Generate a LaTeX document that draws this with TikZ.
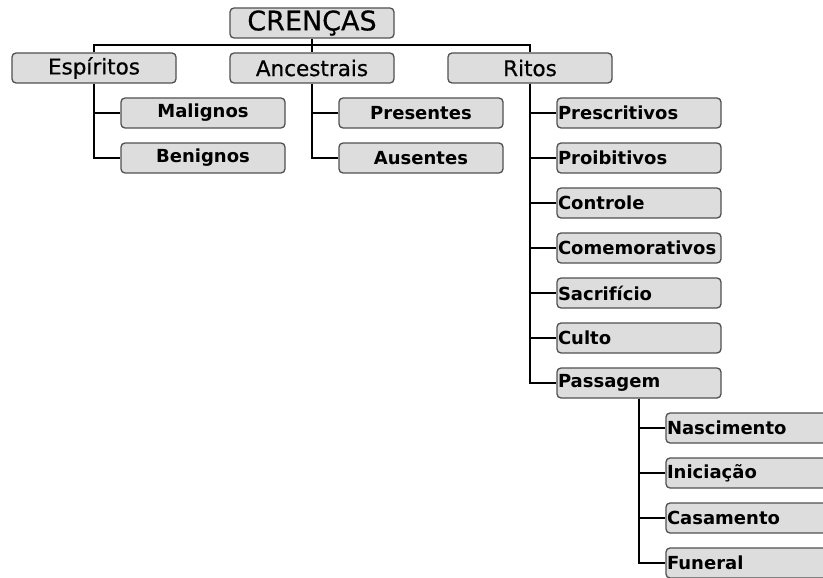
\documentclass[tikz,border=0pt]{standalone}
\usepackage{fontspec}
\setmainfont{DejaVu Sans}
\newfontfamily\medfont[FakeBold=0.6]{DejaVu Sans}
\definecolor{boxfill}{RGB}{221,221,221}
\definecolor{boxline}{RGB}{80,80,80}
\begin{document}
\begin{tikzpicture}[x=1pt,y=-1pt,
    box/.style={draw=boxline,fill=boxfill,line width=1.3pt,rounded corners=4pt,
        minimum width=164pt,minimum height=30pt,inner sep=1pt},
    main/.style={box,font=\medfont\fontsize{21.5}{24}\selectfont},
    subc/.style={box,text width=160pt,align=center,font=\bfseries\fontsize{18}{20}\selectfont},
    subl/.style={box,text width=162pt,align=left,inner xsep=0pt,font=\bfseries\fontsize{18}{20}\selectfont},
    link/.style={line width=2.6pt}]
    \useasboundingbox (0,0) rectangle (823,578);
    \clip (0,0) rectangle (823,578);

    % root
    \node[main,font=\medfont\fontsize{27}{30}\selectfont] (crencas) at (312,23) {CRENÇAS};

    % first level
    \node[main] (espiritos) at (94,68) {Espíritos};
    \node[main] (ancestrais) at (312,68) {Ancestrais};
    \node[main] (ritos) at (530,68) {Ritos};

    % espiritos / ancestrais
    \node[subc] (malignos) at (203,113) {Malignos};
    \node[subc] (benignos) at (203,158) {Benignos};
    \node[subc] (presentes) at (421,113) {Presentes};
    \node[subc] (ausentes) at (421,158) {Ausentes};

    % ritos
    \node[subl] (prescritivos) at (639,113) {Prescritivos};
    \node[subl] (proibitivos) at (639,158) {Proibitivos};
    \node[subl] (controle) at (639,203) {Controle};
    \node[subl] (comemorativos) at (639,248) {Comemorativos};
    \node[subl] (sacrificio) at (639,293) {Sacrifício};
    \node[subl] (culto) at (639,338) {Culto};
    \node[subl] (passagem) at (639,383) {Passagem};

    % passagem
    \node[subl] (nascimento) at (748,428) {Nascimento};
    \node[subl] (iniciacao) at (748,473) {Iniciação};
    \node[subl] (casamento) at (748,518) {Casamento};
    \node[subl] (funeral) at (748,563) {Funeral};

    % connectors
    \draw[link] (crencas.south) -- (ancestrais.north);
    \draw[link] (espiritos.north) -- ++(0,7.5pt) -| (ritos.north);
    \draw[link] (espiritos.south) |- (malignos.west);
    \draw[link] (espiritos.south) |- (benignos.west);
    \draw[link] (ancestrais.south) |- (presentes.west);
    \draw[link] (ancestrais.south) |- (ausentes.west);
    \draw[link] (ritos.south) |- (prescritivos.west);
    \draw[link] (ritos.south) |- (proibitivos.west);
    \draw[link] (ritos.south) |- (controle.west);
    \draw[link] (ritos.south) |- (comemorativos.west);
    \draw[link] (ritos.south) |- (sacrificio.west);
    \draw[link] (ritos.south) |- (culto.west);
    \draw[link] (ritos.south) |- (passagem.west);
    \draw[link] (passagem.south) |- (nascimento.west);
    \draw[link] (passagem.south) |- (iniciacao.west);
    \draw[link] (passagem.south) |- (casamento.west);
    \draw[link] (passagem.south) |- (funeral.west);
\end{tikzpicture}
\end{document}
